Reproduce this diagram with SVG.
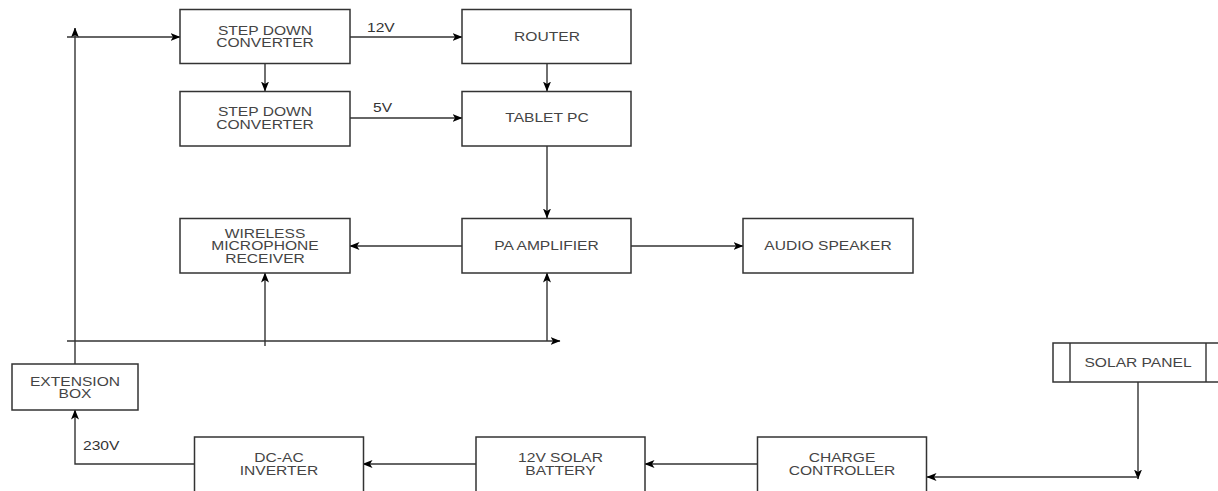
<svg xmlns="http://www.w3.org/2000/svg" width="1218" height="491" viewBox="0 0 1218 491">
<defs>
<style>
.box{fill:#fff;stroke:#333;stroke-width:1.5}
.ln{fill:none;stroke:#333;stroke-width:1.4}
.ar{marker-end:url(#ah)}
.t{font-family:"Liberation Sans",Arial,sans-serif;font-size:12px;fill:#444;text-anchor:middle}
.l{font-family:"Liberation Sans",Arial,sans-serif;font-size:12px;fill:#333;text-anchor:start}
</style>
<marker id="ah" viewBox="0 0 10 8" markerWidth="10" markerHeight="8" refX="9.5" refY="4" orient="auto" markerUnits="userSpaceOnUse">
<path d="M0,0 L10,4 L0,8 L2.5,4 z" fill="#000"/>
</marker>
</defs>
<rect width="1218" height="491" fill="#fff"/>
<g id="connectors">
<path class="ln ar" d="M75,364 V28"/>
<path class="ln ar" d="M67,37 H180"/>
<path class="ln ar" d="M67,341 H560"/>
<path class="ln ar" d="M265,346 V273"/>
<path class="ln ar" d="M547,341 V273"/>
<path class="ln ar" d="M265,63 V91"/>
<path class="ln ar" d="M350,37 H462"/>
<path class="ln ar" d="M350,118 H462"/>
<path class="ln ar" d="M547,63 V91"/>
<path class="ln ar" d="M547,146 V218"/>
<path class="ln ar" d="M462,246 H350"/>
<path class="ln ar" d="M631,246 H743"/>
<path class="ln ar" d="M194,464 H75 V410"/>
<path class="ln ar" d="M476,464 H363"/>
<path class="ln ar" d="M757,464 H645"/>
<path class="ln ar" d="M1138,382 V479"/>
<path class="ln ar" d="M1138,477 H927"/>
<text class="l" transform="translate(367,31.5) scale(1.3,1)">12V</text>
<text class="l" transform="translate(373,112) scale(1.3,1)">5V</text>
<text class="l" transform="translate(83,450) scale(1.3,1)">230V</text>
</g>
<g id="step-down-1">
<rect class="box" x="180" y="9.5" width="170" height="54"/>
<text class="t" transform="translate(265,34.5) scale(1.3,1)">STEP DOWN</text>
<text class="t" transform="translate(265,47) scale(1.3,1)">CONVERTER</text>
</g>
<g id="step-down-2">
<rect class="box" x="180" y="91.5" width="170" height="54.5"/>
<text class="t" transform="translate(265,116) scale(1.3,1)">STEP DOWN</text>
<text class="t" transform="translate(265,128.5) scale(1.3,1)">CONVERTER</text>
</g>
<g id="router">
<rect class="box" x="462" y="9.5" width="169" height="54"/>
<text class="t" transform="translate(547,40.5) scale(1.3,1)">ROUTER</text>
</g>
<g id="tablet-pc">
<rect class="box" x="462" y="91.5" width="169" height="54.5"/>
<text class="t" transform="translate(547,122) scale(1.3,1)">TABLET PC</text>
</g>
<g id="wireless-mic">
<rect class="box" x="180" y="218.5" width="170" height="54.5"/>
<text class="t" transform="translate(265,237.5) scale(1.3,1)">WIRELESS</text>
<text class="t" transform="translate(265,250) scale(1.3,1)">MICROPHONE</text>
<text class="t" transform="translate(265,262.5) scale(1.3,1)">RECEIVER</text>
</g>
<g id="pa-amplifier">
<rect class="box" x="462" y="218.5" width="169" height="54.5"/>
<text class="t" transform="translate(546.5,250) scale(1.3,1)">PA AMPLIFIER</text>
</g>
<g id="audio-speaker">
<rect class="box" x="743" y="218.5" width="170" height="54.5"/>
<text class="t" transform="translate(828,250) scale(1.3,1)">AUDIO SPEAKER</text>
</g>
<g id="extension-box">
<rect class="box" x="12" y="364" width="126" height="46"/>
<text class="t" transform="translate(75,385.5) scale(1.3,1)">EXTENSION</text>
<text class="t" transform="translate(75,398) scale(1.3,1)">BOX</text>
</g>
<g id="dc-ac-inverter">
<rect class="box" x="194.5" y="437" width="169" height="60"/>
<text class="t" transform="translate(279,462) scale(1.3,1)">DC-AC</text>
<text class="t" transform="translate(279,475) scale(1.3,1)">INVERTER</text>
</g>
<g id="solar-battery">
<rect class="box" x="476" y="437" width="169" height="60"/>
<text class="t" transform="translate(560.5,462) scale(1.3,1)">12V SOLAR</text>
<text class="t" transform="translate(560.5,475) scale(1.3,1)">BATTERY</text>
</g>
<g id="charge-controller">
<rect class="box" x="757.5" y="437" width="169" height="60"/>
<text class="t" transform="translate(842,462) scale(1.3,1)">CHARGE</text>
<text class="t" transform="translate(842,475) scale(1.3,1)">CONTROLLER</text>
</g>
<g id="solar-panel">
<rect class="box" x="1053" y="343" width="170" height="39"/>
<path class="ln" d="M1070,343 V382 M1206,343 V382"/>
<text class="t" transform="translate(1138,367) scale(1.3,1)">SOLAR PANEL</text>
</g>
</svg>
